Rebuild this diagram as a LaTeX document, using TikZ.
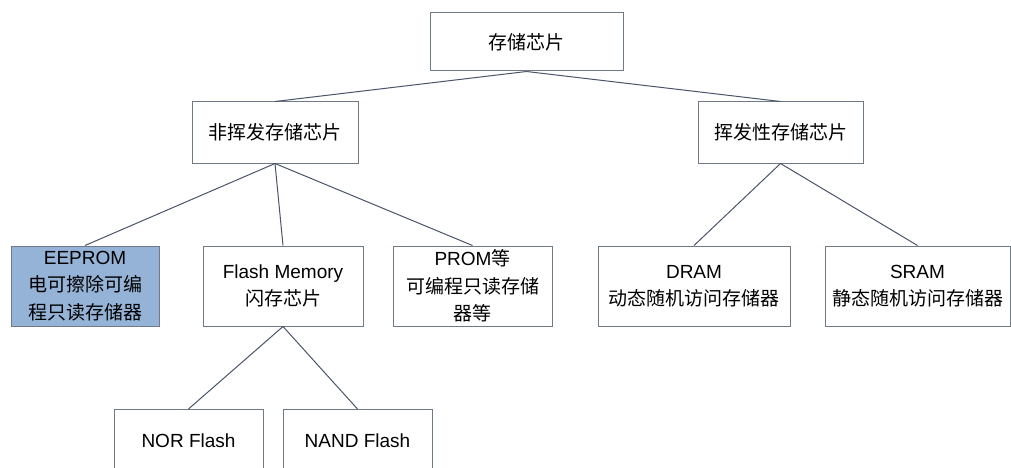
\documentclass[tikz,border=0pt]{standalone}
\usepackage{fontspec}
\setmainfont{Liberation Sans}
\newfontfamily\cjk{Noto Sans CJK SC}
\definecolor{boxline}{HTML}{707A86}
\definecolor{conn}{HTML}{4A5568}
\definecolor{eefill}{HTML}{95B3D7}
\begin{document}
\begin{tikzpicture}[x=1pt,y=-1pt,
  box/.style={draw=boxline,line width=1pt,fill=white,inner sep=0pt,align=center,
    font=\fontsize{19}{27.5}\selectfont},
  link/.style={draw=conn,line width=1pt}]
\clip (0,0) rectangle (1011,468);
\fill[white] (0,0) rectangle (1011,468);
\node[box,minimum width=193pt,minimum height=58pt] (root) at (526.5,42) {\cjk 存储芯片};
\node[box,minimum width=166pt,minimum height=61pt] (nv) at (275,132.5) {\cjk 非挥发存储芯片};
\node[box,minimum width=165pt,minimum height=61pt] (vol) at (780.5,132.5) {\cjk 挥发性存储芯片};
\node[box,fill=eefill,minimum width=148pt,minimum height=80pt] (ee) at (85,286) {EEPROM\\{\cjk 电可擦除可编}\\{\cjk 程只读存储器}};
\node[box,minimum width=160pt,minimum height=80pt] (fl) at (283,286) {Flash Memory\\{\cjk 闪存芯片}};
\node[box,minimum width=159pt,minimum height=80pt] (prom) at (472.5,286) {PROM{\cjk 等}\\{\cjk 可编程只读存储}\\{\cjk 器等}};
\node[box,minimum width=192pt,minimum height=80pt] (dram) at (694,286) {DRAM\\{\cjk 动态随机访问存储器}};
\node[box,minimum width=185pt,minimum height=80pt] (sram) at (917.5,286) {SRAM\\{\cjk 静态随机访问存储器}};
\node[box,minimum width=149pt,minimum height=80pt,anchor=north] (nor) at (188.5,409) {};
\node[box,minimum width=149pt,minimum height=80pt,anchor=north] (nand) at (357.5,409) {};
\node[font=\fontsize{19}{26}\selectfont] (norl) at (nor.north |- 0,441) {NOR Flash};
\node[font=\fontsize{19}{26}\selectfont] (nandl) at (nand.north |- 0,441) {NAND Flash};
\draw[link] (root.south) -- (nv.north);
\draw[link] (root.south) -- (vol.north);
\draw[link] (nv.south) -- (ee.north);
\draw[link] (nv.south) -- (fl.north);
\draw[link] (nv.south) -- (prom.north);
\draw[link] (vol.south) -- (dram.north);
\draw[link] (vol.south) -- (sram.north);
\draw[link] (fl.south) -- (nor.north);
\draw[link] (fl.south) -- (nand.north);
\end{tikzpicture}
\end{document}
